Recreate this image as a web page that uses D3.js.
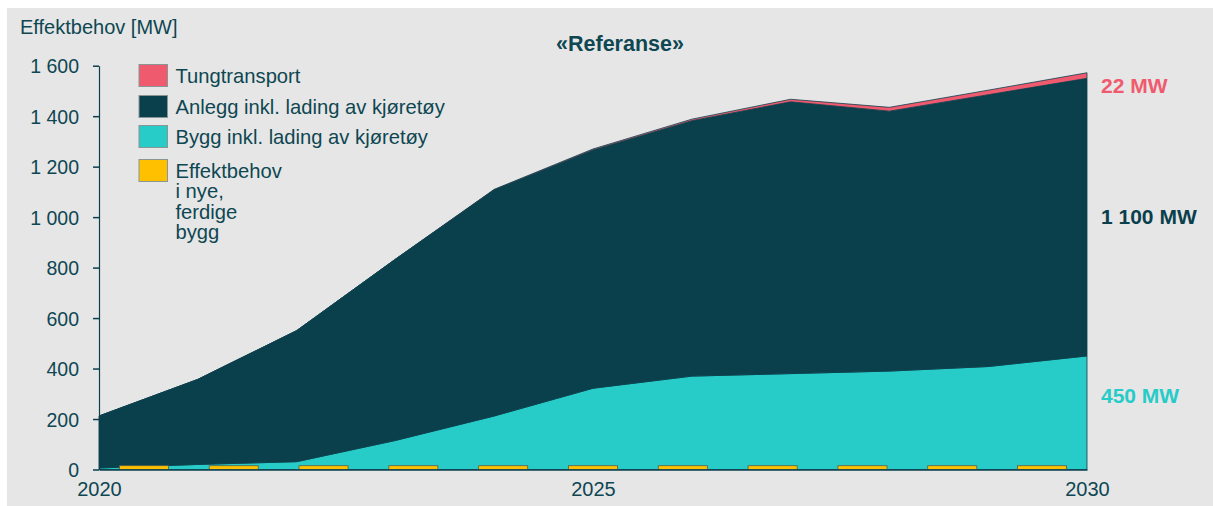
<!DOCTYPE html>
<html lang="no">
<head>
<meta charset="utf-8">
<script src="https://cdn.jsdelivr.net/npm/d3@7"></script>
<style>
  html, body { margin: 0; padding: 0; background: #ffffff; }
  svg { display: block; font-family: "Liberation Sans", Arial, sans-serif; }
</style>
</head>
<body>
<svg id="chart" width="1213" height="506"></svg>
<script>
// Effektbehov per år, MW
const years = [2020, 2021, 2022, 2023, 2024, 2025, 2026, 2027, 2028, 2029, 2030];
const bygg = [6, 20, 31, 115, 212, 322, 370, 380, 390, 408, 450];
const anlegg = [206, 337, 519, 718, 896, 944, 1012, 1077, 1030, 1077, 1100];
const tungtransport = [0, 0, 0, 0.5, 2, 4, 6, 10, 15, 18, 22];
const nyeBygg = [15, 15, 15, 15, 15, 15, 15, 15, 15, 15, 15];

const yTicks = [0, 200, 400, 600, 800, 1000, 1200, 1400, 1600];
const xTicks = [2020, 2025, 2030];

const seriesKeys = ["bygg", "anlegg", "tung"];
const seriesColors = { bygg: "#27cbc7", anlegg: "#0a3f4c", tung: "#f05a6e" };
const legendItems = [
  { color: "#f05a6e", lines: ["Tungtransport"] },
  { color: "#0a3f4c", lines: ["Anlegg inkl. lading av kjøretøy"] },
  { color: "#27cbc7", lines: ["Bygg inkl. lading av kjøretøy"] },
  { color: "#ffc000", lines: ["Effektbehov", "i nye,", "ferdige", "bygg"] }
];
const endLabels = [
  { text: "22 MW", color: "#f05a6e", y: 92.5 },
  { text: "1 100 MW", color: "#0a3f4c", y: 223.5 },
  { text: "450 MW", color: "#27cbc7", y: 402.5 }
];

const textColor = "#0e4652";
const rows = years.map((yr, i) => ({
  year: yr, bygg: bygg[i], anlegg: anlegg[i], tung: tungtransport[i], nye: nyeBygg[i]
}));

const svg = d3.select("#chart");

// panel background
svg.append("rect").attr("x", 7).attr("y", 8).attr("width", 1206).attr("height", 498)
  .attr("fill", "#e6e6e6");

const x = d3.scaleLinear().domain([2020, 2030]).range([99, 1087]);
const y = d3.scaleLinear().domain([0, 1600]).range([469.5, 65.7]);
const xBand = d3.scaleBand().domain(years).range([99, 1087])
  .paddingInner(0.454).paddingOuter(0.227);

const stacked = d3.stack().keys(seriesKeys)(rows);
const area = d3.area()
  .x(d => x(d.data.year))
  .y0(d => y(d[0]))
  .y1(d => y(d[1]));

svg.append("g").selectAll("path").data(stacked).join("path")
  .attr("d", area)
  .attr("fill", d => seriesColors[d.key])
  .attr("stroke", "#0a3f4c")
  .attr("stroke-width", 0.8)
  .attr("stroke-linejoin", "round");

// new-building bars along the base line
svg.append("g").selectAll("rect").data(rows).join("rect")
  .attr("x", d => xBand(d.year))
  .attr("width", xBand.bandwidth())
  .attr("y", d => y(d.nye))
  .attr("height", d => y(0) - y(d.nye))
  .attr("fill", "#ffc000")
  .attr("stroke", "#55604a")
  .attr("stroke-width", 0.8);

// axes
const nb = d3.formatLocale({ decimal: ",", thousands: " ", grouping: [3], currency: ["", " kr"] });
const fmt = nb.format(",d");

const yAxis = svg.append("g").attr("transform", `translate(${x(2020)},0)`)
  .call(d3.axisLeft(y).tickValues(yTicks).tickFormat(fmt).tickSize(6).tickSizeOuter(0).tickPadding(14));
yAxis.select(".domain").attr("stroke", "#0a3f4c").attr("stroke-width", 1.2);
yAxis.selectAll(".tick line").attr("stroke", "#0a3f4c").attr("stroke-width", 1.5);
yAxis.selectAll(".tick text")
  .attr("fill", textColor).attr("font-size", 19.5).attr("font-family", "Liberation Sans, Arial, sans-serif")
  .attr("dy", "0.36em");

const xAxis = svg.append("g").attr("transform", `translate(0,${y(0)})`)
  .call(d3.axisBottom(x).tickValues(xTicks).tickFormat(d3.format("d")).tickSize(0).tickSizeOuter(0).tickPadding(8));
xAxis.select(".domain").attr("stroke", "#0a3f4c").attr("stroke-width", 1.5);
xAxis.selectAll(".tick text")
  .attr("fill", textColor).attr("font-size", 20).attr("font-family", "Liberation Sans, Arial, sans-serif")
  .attr("dy", "0.9em");

// titles
svg.append("text").attr("x", 20).attr("y", 33.5)
  .attr("fill", textColor).attr("font-size", 20).text("Effektbehov [MW]");
svg.append("text").attr("x", 620).attr("y", 50.5).attr("text-anchor", "middle")
  .attr("fill", textColor).attr("font-size", 21.5).attr("font-weight", "bold").text("«Referanse»");

// legend
const legendTops = [64.5, 95.5, 125.5, 159.5];
const lg = svg.append("g");
legendItems.forEach((item, i) => {
  lg.append("rect").attr("x", 139).attr("y", legendTops[i]).attr("width", 28.5).attr("height", 22)
    .attr("fill", item.color).attr("stroke", "#8a9596").attr("stroke-width", 1);
  item.lines.forEach((line, j) => {
    lg.append("text").attr("x", 175.5).attr("y", legendTops[i] + 18.5 + j * 20.3)
      .attr("fill", textColor).attr("font-size", 20.2).text(line);
  });
});

// values at the end of the period
svg.append("g").selectAll("text").data(endLabels).join("text")
  .attr("x", 1101).attr("y", d => d.y)
  .attr("fill", d => d.color).attr("font-size", 21).attr("font-weight", "bold")
  .text(d => d.text);
</script>
</body>
</html>
